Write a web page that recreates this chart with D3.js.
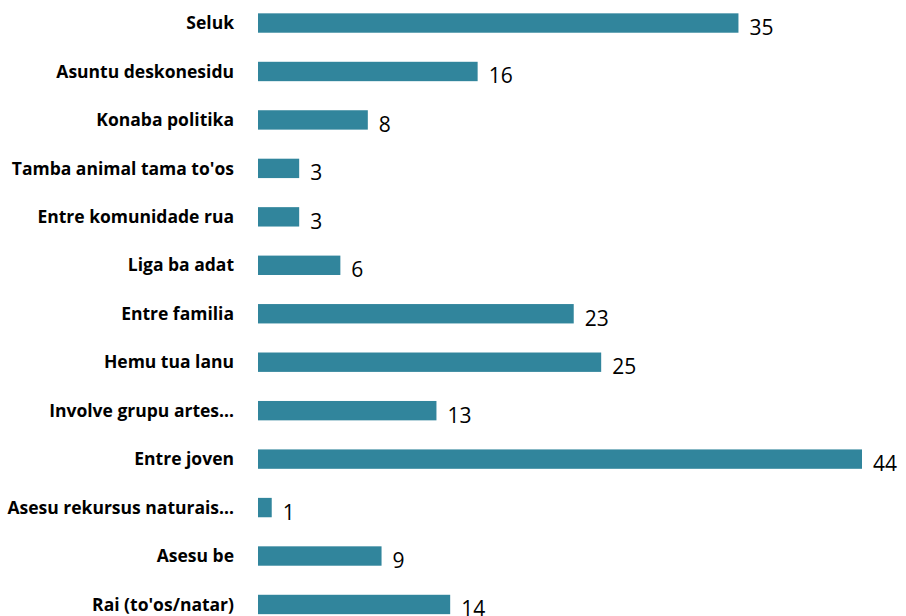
<!DOCTYPE html>
<html>
<head>
<meta charset="utf-8">
<script src="https://cdn.jsdelivr.net/npm/d3@7"></script>
<style>
  body { margin: 0; background: #fff; }
</style>
</head>
<body>
<div id="chart"></div>
<script>
// categories, top to bottom
let categories = [
    "Seluk", "Asuntu deskonesidu", "Konaba politika", "Tamba animal tama to'os",
    "Entre komunidade rua", "Liga ba adat", "Entre familia", "Hemu tua lanu",
    "Involve grupu artes…", "Entre joven", "Asesu rekursus naturais…", "Asesu be",
    "Rai (to'os/natar)"
];
let values = [35, 16, 8, 3, 3, 6, 23, 25, 13, 44, 1, 9, 14];

let svgWidth = 906;
let svgHeight = 616;

let svg = d3.select('#chart')
    .append('svg')
    .attr('width', svgWidth)
    .attr('height', svgHeight)

let data = categories.map((c, i) => ({ cat: c, val: values[i] }))

// scales
let xScale = d3.scaleLinear()
    .domain([0, 44])
    .range([258, 862])

let yScale = d3.scaleBand()
    .domain(categories)
    .range([-1.2, 628.7])
    .paddingInner(0.6)
    .paddingOuter(0.3)

svg.selectAll('rect.bar')
    .data(data)
    .enter()
    .append('rect')
        .attr('class', 'bar')
        .attr('x', xScale(0))
        .attr('y', d => yScale(d.cat))
        .attr('width', d => xScale(d.val) - xScale(0))
        .attr('height', yScale.bandwidth())
        .style('fill', '#31859c')

// category labels
svg.selectAll('text.cat')
    .data(data)
    .enter()
    .append('text')
        .attr('class', 'cat')
        .attr('x', 234)
        .attr('y', d => yScale(d.cat) + yScale.bandwidth() / 2)
        .attr('dy', '0.35em')
        .attr('text-anchor', 'end')
        .style('font-family', '"Open Sans", sans-serif')
        .style('font-weight', 'bold')
        .style('font-size', '17.5px')
        .style('fill', '#000')
        .text(d => d.cat)

// value labels
svg.selectAll('text.val')
    .data(data)
    .enter()
    .append('text')
        .attr('class', 'val')
        .attr('x', d => xScale(d.val) + 11)
        .attr('y', d => yScale(d.cat) + yScale.bandwidth() / 2 + 12)
        .style('font-family', '"Open Sans", sans-serif')
        .style('font-size', '21px')
        .style('fill', '#000')
        .text(d => d.val)
</script>
</body>
</html>
